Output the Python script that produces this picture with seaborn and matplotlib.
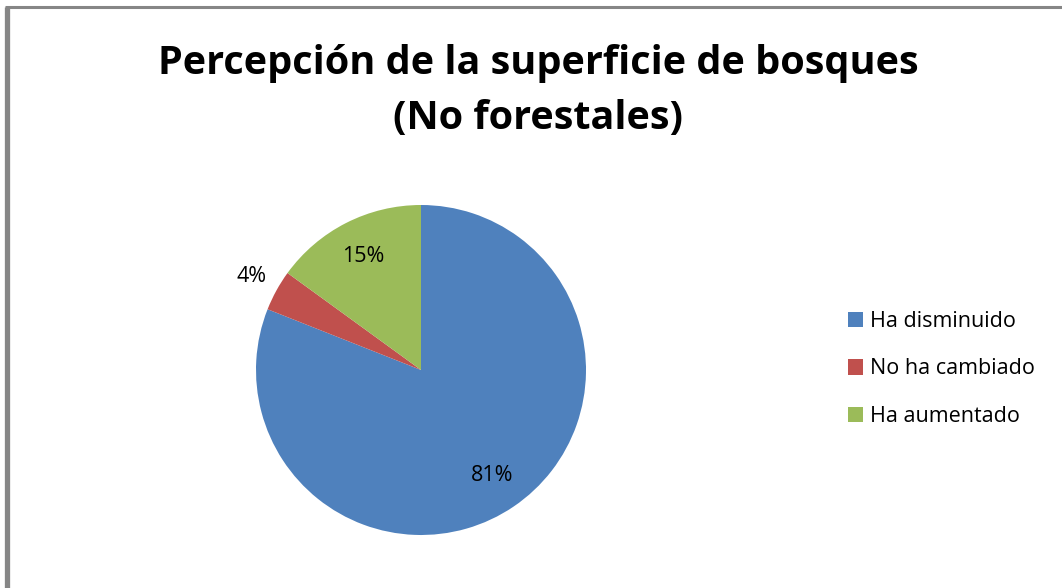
import matplotlib
matplotlib.use("Agg")
import matplotlib.pyplot as plt
import seaborn as sns
import numpy as np
from matplotlib.lines import Line2D

# data
categories = ["Ha disminuido", "No ha cambiado", "Ha aumentado"]
values = [81, 4, 15]
colors = ["#4F81BD", "#C0504D", "#9BBB59"]
title = "Percepción de la superficie de bosques\n(No forestales)"

sns.set_theme(style="white")
plt.rcParams["font.family"] = ["Open Sans", "DejaVu Sans"]
plt.rcParams["text.color"] = "black"

fig = plt.figure(figsize=(10.62, 5.88), dpi=100)
fig.patch.set_facecolor("white")

# pie axes: center (421,370), radius 165 px
W, H = 1062, 588
ax = fig.add_axes([(421 - 165) / W, (588 - 535) / H, 330 / W, 330 / H])
wedges, texts, autotexts = ax.pie(
    values, colors=sns.color_palette(colors), startangle=90, counterclock=False,
    autopct="%1.0f%%", pctdistance=0.77, radius=1,
    wedgeprops={"linewidth": 0},
    textprops={"fontsize": 15.5, "color": "black"},
)
# small slice label sits outside the pie
autotexts[1].set_position(np.array(autotexts[1].get_position()) / 0.77 * 1.17)
ax.set_xlim(-1, 1)
ax.set_ylim(-1, 1)
ax.set_aspect("equal")

fig.text(538 / W, 1 - 91 / H, title, ha="center", va="center", color="black",
         fontsize=28.5, fontweight="bold", linespacing=1.55)

leg = ax.legend(wedges, categories, loc="center left",
                bbox_to_anchor=(839 / W, 1 - 369 / H), bbox_transform=fig.transFigure,
                frameon=False, fontsize=15.5, handlelength=0.7, handleheight=0.7,
                handletextpad=0.35, labelspacing=1.25, borderaxespad=0)
for t in leg.get_texts():
    t.set_color("black")

# grey frame (left and top edges)
fig.add_artist(Line2D([6.5 / W, 6.5 / W], [0, 1 - 7 / H], transform=fig.transFigure,
                      color="#868686", lw=3.8, solid_capstyle="butt"))
fig.add_artist(Line2D([4.5 / W, 1], [1 - 7 / H, 1 - 7 / H], transform=fig.transFigure,
                      color="#868686", lw=2.2, solid_capstyle="butt"))

fig.savefig("out.png", dpi=100, facecolor="white")
